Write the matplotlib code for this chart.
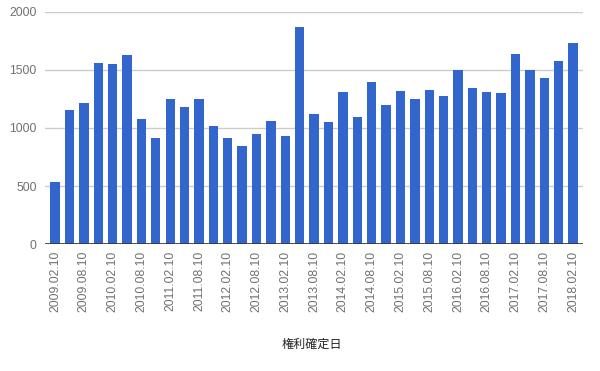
import matplotlib
matplotlib.use('Agg')
import matplotlib.pyplot as plt

plt.rcParams['font.family'] = ['Liberation Sans', 'Noto Sans CJK JP', 'DejaVu Sans']

# quarterly record dates, 2009.02.10 .. 2018.02.10
dates = []
for year in range(2009, 2019):
    for month in ['02', '05', '08', '11']:
        dates.append(f'{year}.{month}.10')
dates = dates[:37]

counts = [534, 1155, 1216, 1560, 1552, 1629, 1078, 914, 1250, 1181,
          1250, 1017, 914, 845, 948, 1060, 931, 1871, 1121, 1052,
          1310, 1095, 1397, 1198, 1319, 1250, 1328, 1276, 1500, 1345,
          1310, 1302, 1641, 1500, 1431, 1578, 1733]

yticks = [0, 500, 1000, 1500, 2000]

fig = plt.figure(figsize=(6.0, 3.71), dpi=100)
ax = fig.add_axes([0.075, 0.342, 0.897, 0.626])

x = list(range(len(counts)))
ax.bar(x, counts, width=0.65, color='#3366cc', zorder=3)

ax.set_xlim(-0.7, len(counts) - 0.3)
ax.set_ylim(0, 2000)
ax.set_yticks(yticks)
ax.set_yticklabels([str(v) for v in yticks])
ax.set_xticks(x[::2])
ax.set_xticklabels(dates[::2], rotation=90)

ax.grid(axis='y', color='#cccccc', linewidth=1, zorder=0)
ax.axhline(0, color='#333333', linewidth=1.2, zorder=4)
for side in ['top', 'right', 'left', 'bottom']:
    ax.spines[side].set_visible(False)
ax.tick_params(axis='both', length=0, labelsize=8.7, colors='#707070')
ax.tick_params(axis='y', pad=6)
ax.tick_params(axis='x', pad=5)

fig.text(0.52, 0.07, '権利確定日', ha='center', va='center',
         fontsize=8.7, color='#222222')

plt.savefig('out.png', dpi=100)
plt.close()
